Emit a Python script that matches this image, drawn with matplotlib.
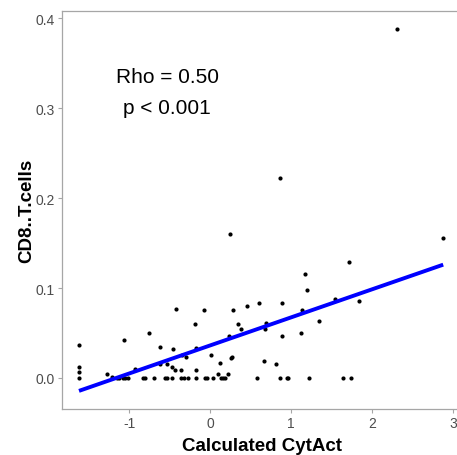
import numpy as np
import matplotlib
matplotlib.use("Agg")
import matplotlib.pyplot as plt

# Data
cytact = [
    -1.62, -1.62, -1.62, -1.62,
    -1.28, -1.21, -1.15, -1.12, -1.08, -1.05, -1.02, -1.07, -0.93,
    -0.83, -0.81, -0.76, -0.69, -0.62, -0.62, -0.56, -0.53, -0.47,
    -0.53, -0.46, -0.47, -0.43, -0.42, -0.36, -0.35, -0.30,
    -0.36, -0.32, -0.27, -0.185, -0.18, -0.17, -0.18,
    -0.08, -0.06, -0.04, 0.01, 0.03, 0.095, 0.125, 0.14, 0.16, 0.18,
    0.22, 0.23, 0.26, 0.27, 0.28, 0.25, 0.34, 0.38, 0.46,
    0.58, 0.61, 0.66, 0.69, 0.68, 0.81, 0.86, 0.86, 0.885, 0.885,
    0.95, 0.96, 1.12, 1.14, 1.17, 1.20, 1.22, 1.34, 1.54, 1.64, 1.74,
    1.72, 1.84, 2.31, 2.88,
]
cd8 = [
    0.037, 0.0126, 0.007, 0.0,
    0.004, 0.0015, 0.0, 0.0, 0.0, 0.0, 0.0, 0.042, 0.0095,
    0.0, 0.0, 0.050, 0.0, 0.034, 0.016, 0.0, 0.0, 0.0,
    0.015, 0.032, 0.012, 0.009, 0.077, 0.009, 0.0256, 0.023,
    0.0, 0.0, 0.0, 0.060, 0.033, 0.009, 0.0,
    0.075, 0.0, 0.0, 0.0256, 0.0, 0.0045, 0.017, 0.0, 0.0, 0.0,
    0.0045, 0.047, 0.022, 0.0235, 0.075, 0.160, 0.060, 0.054, 0.080,
    0.0, 0.0835, 0.019, 0.061, 0.0545, 0.0155, 0.222, 0.0, 0.0837, 0.047,
    0.0, 0.0, 0.050, 0.075, 0.116, 0.098, 0.0, 0.063, 0.0875, 0.0, 0.0,
    0.129, 0.085, 0.3886, 0.156,
]
# linear fit as shown in the reference
fit_intercept = 0.0361
fit_slope = 0.0312

x_ticks = [-1, 0, 1, 2, 3]
y_ticks = [0.0, 0.1, 0.2, 0.3, 0.4]
annot_lines = ["Rho = 0.50", "p < 0.001"]

plt.rcParams['font.family'] = ['Liberation Sans', 'DejaVu Sans']

fig = plt.figure(figsize=(4.57, 4.56), dpi=100)
ax = fig.add_axes([62/457, 1-410/456, (461-62)/457, (410-11.5)/456])

x = np.array(cytact)
y = np.array(cd8)
ax.scatter(x, y, s=9, color='black', linewidths=0, zorder=3)

xs = np.array([x.min(), x.max()])
ax.plot(xs, fit_slope*xs + fit_intercept, color='#0000ff', lw=2.8,
        solid_capstyle='butt', zorder=4)

ax.set_xlim(-1.83, 3.10)
ax.set_ylim(-0.0346, 0.4087)
ax.set_xticks(x_ticks)
ax.set_xticklabels([str(t) for t in x_ticks])
ax.set_yticks(y_ticks)
ax.set_yticklabels([f"{t:.1f}" for t in y_ticks])

for s in ['left', 'bottom', 'top', 'right']:
    ax.spines[s].set_color('#a6a6a6')
    ax.spines[s].set_linewidth(0.9)
ax.tick_params(axis='both', colors='#a6a6a6', labelcolor='#4d4d4d',
               labelsize=10, length=3, width=0.8, pad=2)

ax.set_xlabel("Calculated CytAct", fontsize=13.5, fontweight='bold', labelpad=5)
ax.set_ylabel("CD8..T.cells", fontsize=13.5, fontweight='bold', labelpad=0)

ax.text(-0.53, 0.3356, annot_lines[0], ha='center', va='center', fontsize=15)
ax.text(-0.53, 0.301, annot_lines[1], ha='center', va='center', fontsize=15)

fig.savefig("out.png", dpi=100)
